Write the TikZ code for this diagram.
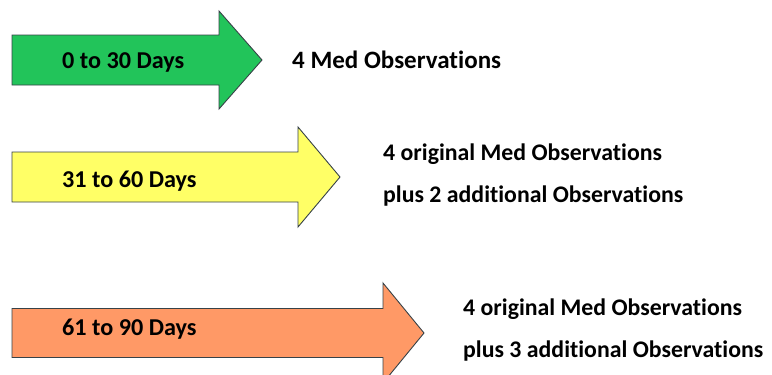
\documentclass[tikz,border=0pt]{standalone}
\usepackage{fontspec}
\setmainfont{Carlito}[Ligatures=NoCommon]
\usepackage{xcolor}
\usetikzlibrary{positioning}
\definecolor{dgreen}{RGB}{34,196,90}
\definecolor{dyellow}{RGB}{255,255,102}
\definecolor{dorange}{RGB}{255,153,102}
\definecolor{dedge}{RGB}{55,66,72}
\tikzset{
  dayarr/.style={draw=dedge,line width=0.9pt,line join=miter},
  daylbl/.style={font=\fontsize{24.2}{28}\selectfont\bfseries,anchor=base west,inner sep=0pt},
  obslbl/.style={font=\fontsize{25}{30}\selectfont\bfseries,anchor=base west,inner sep=0pt},
  obslblsm/.style={obslbl,font=\fontsize{23.8}{30}\selectfont\bfseries}
}
% #1 fill, #2 centre y, #3 head start x, #4 tip x, #5 body half height, #6 head half height
\newcommand{\dayarrow}[6]{%
  \draw[dayarr,fill=#1] (12,{#2-#5}) -- (#3,{#2-#5}) -- (#3,{#2-#6}) -- (#4,#2)
    -- (#3,{#2+#6}) -- (#3,{#2+#5}) -- (12,{#2+#5}) -- cycle;}

\begin{document}
\begin{tikzpicture}[x=1pt,y=-1pt]
\useasboundingbox (0,0) rectangle (772,375);
\clip (0,0) rectangle (772,375);
\dayarrow{dgreen}{60}{219}{262}{25}{49}
\dayarrow{dyellow}{177}{298}{340}{25}{50}
\dayarrow{dorange}{333}{383}{424}{24.5}{50}
\node[daylbl] (days1) at (62,68) {0 to 30 Days};
\node[daylbl] (days2) at (62,187) {31 to 60 Days};
\node[daylbl] (days3) at (62,335) {61 to 90 Days};
\node[obslbl] (obs1) at (292,68) {4 Med Observations};
\node[obslblsm] (obs2a) at (383,160) {4 original Med Observations};
\node[obslblsm] (obs2b) at (383,202) {plus 2 additional Observations};
\node[obslblsm] (obs3a) at (463,315) {4 original Med Observations};
\node[obslblsm] (obs3b) at (463,357) {plus 3 additional Observations};
\end{tikzpicture}
\end{document}
